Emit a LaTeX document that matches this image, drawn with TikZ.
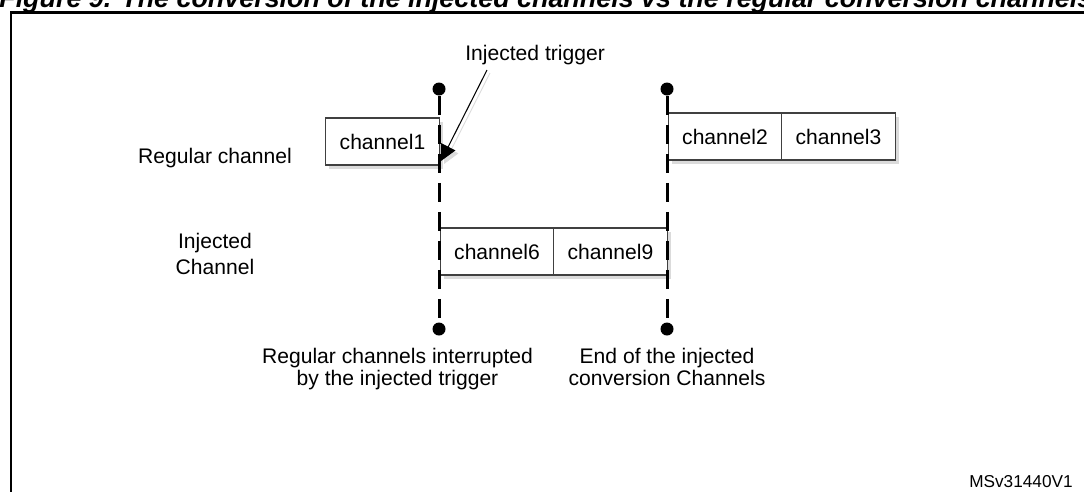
\documentclass[tikz,border=0pt]{standalone}
\usepackage{fontspec}
\setmainfont{Liberation Sans}
\usepackage{tikz}
\usetikzlibrary{positioning,arrows.meta,shadows}

\tikzset{
chbox/.style={draw=black!75, line width=0.6pt, fill=white, minimum width=2.27cm, minimum height=0.94cm,
  inner sep=0pt, outer sep=0pt, font=\fontsize{12}{14}\selectfont,
  drop shadow={shadow xshift=0.07cm, shadow yshift=-0.07cm, fill=black!14, opacity=1}},
dot/.style={circle, fill=black, inner sep=0pt, minimum size=0.26cm},
trigline/.style={line width=1.7pt, dash pattern=on 11pt off 5.5pt},
lbl/.style={font=\fontsize{12}{15}\selectfont, inner sep=0pt, align=center},
}

\begin{document}
\begin{tikzpicture}[x=0.02cm, y=-0.02cm]
\useasboundingbox (0,0) rectangle (1084,491);

\draw[line width=1.7pt] (11,520) -- (11,12.5) -- (1100,12.5);
\node[anchor=base west, inner sep=0pt, font=\fontsize{15.3}{17}\selectfont\bfseries\itshape] (title) at (-1,7)
  {Figure 9. The conversion of the injected channels vs the regular conversion channels};

% channel boxes
\node[chbox] (ch1) at (382.5,141.5) {channel1};
\node[chbox] (ch2) at (725,136.5) {channel2};
\node[chbox, right=0pt of ch2] (ch3) {channel3};
\node[chbox] (ch6) at (497,251.5) {channel6};
\node[chbox, right=0pt of ch6] (ch9) {channel9};

\node[lbl, anchor=base] (reglbl) at (215,163) {Regular channel};
\node[lbl, anchor=north] (injlbl) at (215,233) {Injected\\Channel};

% trigger lines
\node[dot] (ltop) at (439,89) {};
\node[dot] (lbot) at (439,329) {};
\node[dot] (rtop) at (667,89) {};
\node[dot] (rbot) at (667,329) {};
\draw[trigline] (ltop) -- (lbot);
\draw[trigline] (rtop) -- (rbot);

\node[lbl, anchor=base west] (trigtxt) at (465,60) {Injected trigger};
\coordinate (trigfoot) at (487,70);
\coordinate (trigtip) at (441,161);
\draw[-{Triangle[length=0.32cm,width=0.32cm]}, line width=0.5pt, black!14] ([shift={(3,3)}]trigfoot) -- ([shift={(3,3)}]trigtip);
\draw[-{Triangle[length=0.32cm,width=0.32cm]}, line width=0.6pt] (trigfoot) -- (trigtip);

\node[lbl, anchor=north, font=\fontsize{12}{12.6}\selectfont] (intlbl) at (397.5,348)
  {Regular channels interrupted\\by the injected trigger};
\node[lbl, anchor=north, font=\fontsize{12}{12.6}\selectfont] (endlbl) at (667,348)
  {End of the injected\\conversion Channels};

\node[anchor=base east, inner sep=0pt, font=\fontsize{9.8}{12}\selectfont] (figid) at (1073,487) {MSv31440V1};

\end{tikzpicture}
\end{document}
